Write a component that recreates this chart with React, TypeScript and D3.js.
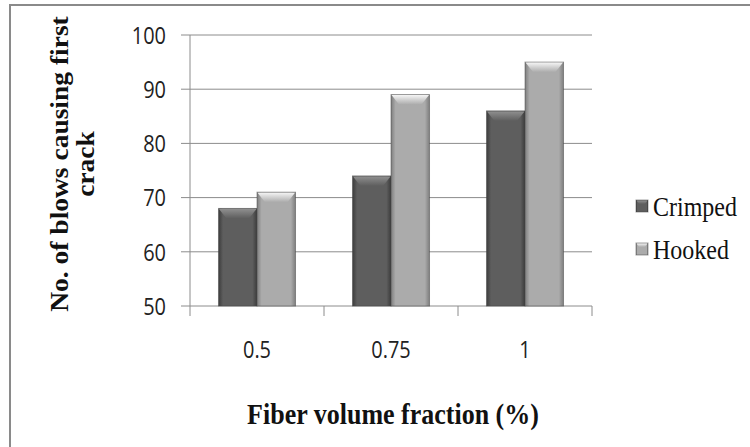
import React from "react";
import * as d3 from "d3";

const categories = ["0.5", "0.75", "1"];
const series = ["Crimped", "Hooked"];
const crimped = [68, 74, 86];
const hooked = [71, 89, 95];
const yTicks = [50, 60, 70, 80, 90, 100];

const looks = {
  Crimped: { edge: "#3c3c3c", mid: "#5e5e5e", top: "#8f8f8f" },
  Hooked: { edge: "#7e7e7e", mid: "#ababab", top: "#f4f4f4" },
};

const Bar = ({ x, y, w, h, name }) => {
  const bev = Math.min(10, h / 2);
  return (
    <g>
      <rect x={x} y={y} width={w} height={h} fill={`url(#side-${name})`} stroke="#444" strokeOpacity={0.5} strokeWidth={1} />
      <path
        d={`M${x + 0.5},${y + 0.5} L${x + w - 0.5},${y + 0.5} L${x + w - 8},${y + bev} L${x + 8},${y + bev} Z`}
        fill={`url(#top-${name})`}
      />
    </g>
  );
};

const App = () => {
  const x0 = d3.scaleBand().domain(categories).range([190, 592]).padding(0);
  const x1 = d3
    .scaleBand()
    .domain(series)
    .range([0, x0.bandwidth()])
    .paddingInner(0)
    .paddingOuter(0.74);
  const y = d3.scaleLinear().domain([50, 100]).range([306, 35]);
  const values = { Crimped: crimped, Hooked: hooked };
  const tickFont = "'Open Sans', 'DejaVu Sans', sans-serif";
  const serif = "'Liberation Serif', 'DejaVu Serif', serif";

  return (
    <svg width={750} height={447} style={{ position: "absolute", left: 0, top: 0, background: "#fff" }}>
      <defs>
        {series.map(s => (
          <React.Fragment key={s}>
            <linearGradient id={`side-${s}`} x1="0" x2="1" y1="0" y2="0">
              <stop offset="0" stopColor={looks[s].edge} />
              <stop offset="0.12" stopColor={looks[s].mid} />
              <stop offset="0.88" stopColor={looks[s].mid} />
              <stop offset="1" stopColor={looks[s].edge} />
            </linearGradient>
            <linearGradient id={`top-${s}`} x1="0" x2="0" y1="0" y2="1">
              <stop offset="0" stopColor={looks[s].top} />
              <stop offset="1" stopColor={looks[s].mid} />
            </linearGradient>
          </React.Fragment>
        ))}
      </defs>

      {/* frame */}
      <path d="M10,452 L10,5 L752,5" fill="none" stroke="#8a8a8a" strokeWidth={2} />

      {/* grid + y axis */}
      {yTicks.map(t => (
        <g key={t}>
          <line x1={181} x2={592} y1={y(t)} y2={y(t)} stroke="#8c8c8c" strokeWidth={1} />
          <text
            transform={`translate(166, ${y(t)}) scale(0.95, 1.15)`}
            dy="0.36em"
            textAnchor="end"
            fontFamily={tickFont}
            fontSize={21}
            fill="#222"
          >
            {t}
          </text>
        </g>
      ))}
      <line x1={190} x2={190} y1={35} y2={306} stroke="#8c8c8c" strokeWidth={1} />
      {[...categories.map(c => x0(c)), 592].map((px, i) => (
        <line key={i} x1={px} x2={px} y1={306} y2={316} stroke="#8c8c8c" strokeWidth={1} />
      ))}

      {/* bars */}
      {categories.map((c, i) => (
        <g key={c}>
          {series.map(s => (
            <Bar
              key={s}
              name={s}
              x={x0(c) + x1(s)}
              y={y(values[s][i])}
              w={x1.bandwidth()}
              h={y(50) - y(values[s][i])}
            />
          ))}
          <text
            transform={`translate(${x0(c) + x0.bandwidth() / 2}, 358) scale(0.95, 1.15)`}
            textAnchor="middle"
            fontFamily={tickFont}
            fontSize={21}
            fill="#222"
          >
            {c}
          </text>
        </g>
      ))}

      {/* legend */}
      {series.map((s, i) => (
        <g key={s} transform={`translate(636, ${200 + i * 43})`}>
          <rect width={12} height={12} fill={`url(#side-${s})`} stroke="#444" strokeOpacity={0.5} />
          <path d="M0.5,0.5 L11.5,0.5 L9,4 L3,4 Z" fill={`url(#top-${s})`} />
          <text transform="translate(17, 16) scale(1, 1.1)" fontFamily={serif} fontSize={24} fill="#111">
            {s}
          </text>
        </g>
      ))}

      {/* axis titles */}
      <text
        transform="translate(393, 424) scale(1, 1.15)"
        textAnchor="middle"
        fontFamily={serif}
        fontWeight="bold"
        fontSize={26}
        fill="#111"
      >
        Fiber volume fraction (%)
      </text>
      <g transform="translate(68,164) rotate(-90) scale(1.1, 1)">
        <text x={0} y={0} textAnchor="middle" fontFamily={serif} fontWeight="bold" fontSize={25} fill="#111">
          No. of blows causing first
        </text>
        <text x={0} y={26} textAnchor="middle" fontFamily={serif} fontWeight="bold" fontSize={25} fill="#111">
          crack
        </text>
      </g>
    </svg>
  );
};

export default App;
